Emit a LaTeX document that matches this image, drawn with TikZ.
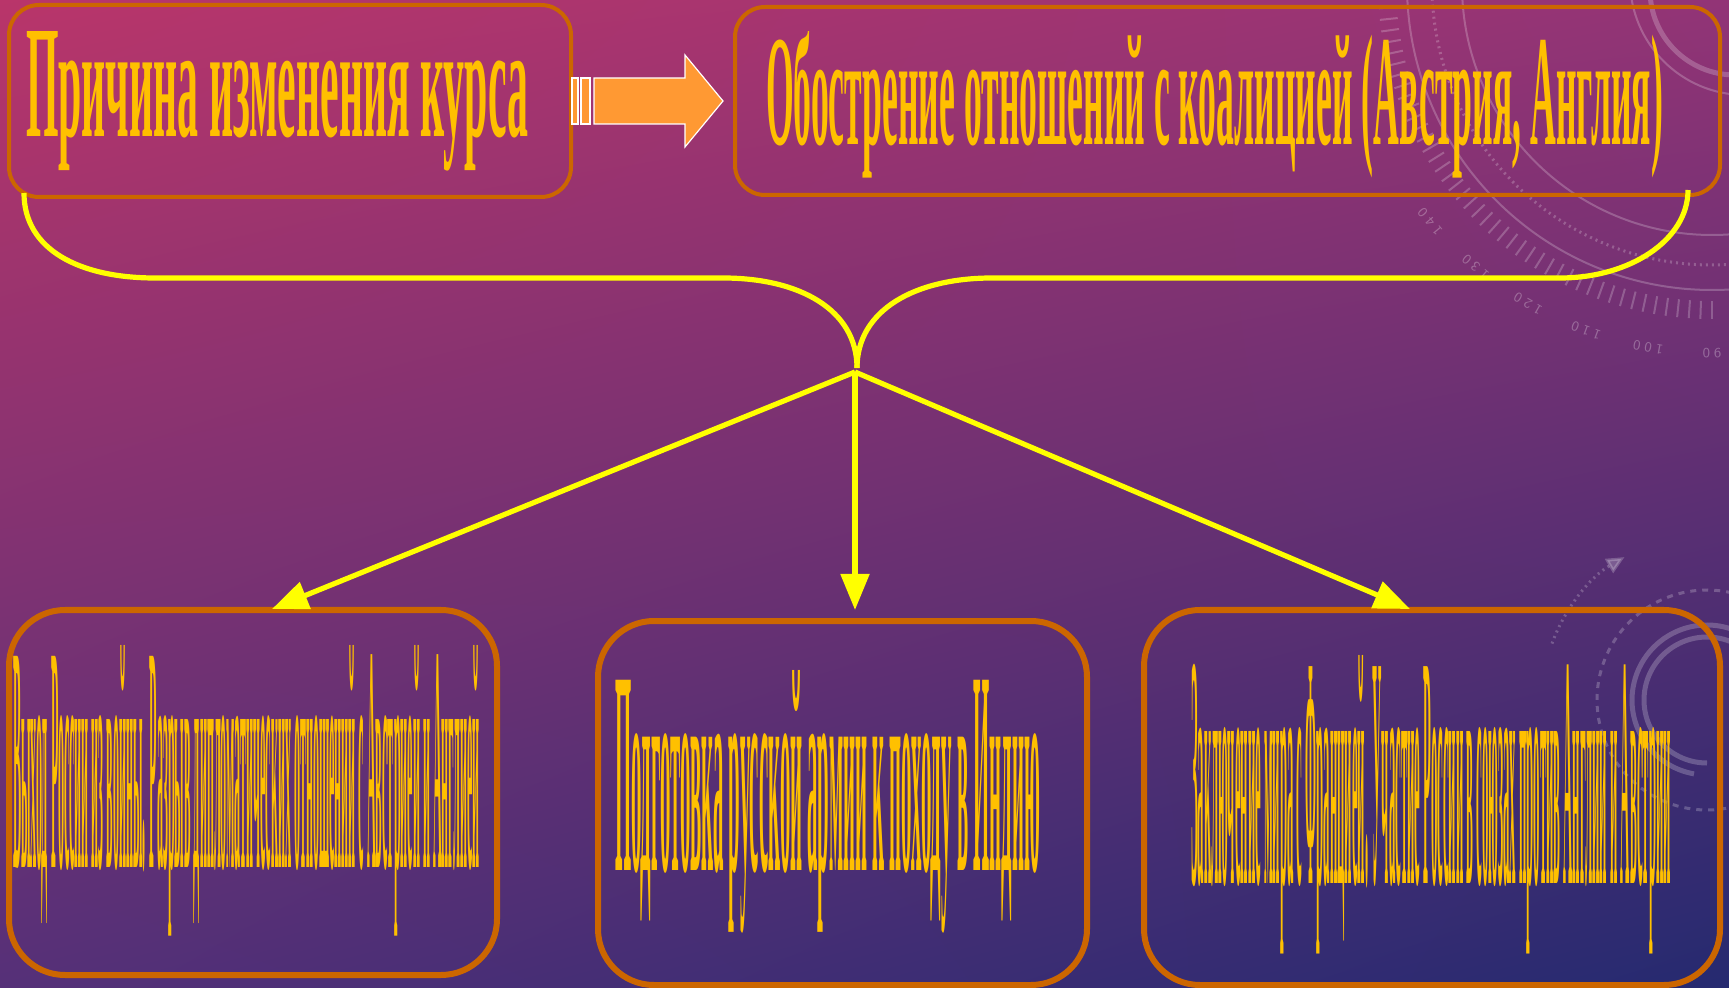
\documentclass[tikz,border=0pt]{standalone}
\usepackage{fontspec}
\setmainfont{Liberation Serif}
\usetikzlibrary{arrows.meta,shadings}
\definecolor{bord}{HTML}{CC6600}
\definecolor{gold}{HTML}{FFC000}
\definecolor{ylw}{HTML}{FFFF00}
\definecolor{orng}{HTML}{FF9933}
\definecolor{bgtl}{HTML}{B9356A}
\definecolor{bgtr}{HTML}{923476}
\definecolor{bgbl}{HTML}{553078}
\definecolor{bgbr}{HTML}{252A70}
\begin{document}
\begin{tikzpicture}[x=0.5pt,y=-0.5pt,
  topbox/.style={draw=bord,line width=2pt,rounded corners=15pt,inner sep=0pt,outer sep=0pt},
  botbox/.style={draw=bord,line width=3pt,rounded corners=28pt,inner sep=0pt,outer sep=0pt},
  lbl/.style={anchor=base west,inner sep=0pt,outer sep=0pt,text=gold,font=\bfseries},
  link/.style={draw=ylw,line width=2.6pt},
  yarrow/.style={link,-{Triangle[length=18pt,width=14pt]}},
  deco/.style={draw=white,opacity=0.22,line width=1pt},
  decotxt/.style={text=white,text opacity=0.28,font=\sffamily\scriptsize,inner sep=0pt}
]
% background
\useasboundingbox (0,0) rectangle (1729,988);
\shade[upper left=bgtl,upper right=bgtr,lower left=bgbl,lower right=bgbr] (0,0) rectangle (1729,988);
% decorations
\begin{scope}
\clip (0,0) rectangle (1729,988);
\coordinate (dc) at (1712,-15);
\draw[deco] (dc) circle[radius=250];
\draw[deco] (dc) circle[radius=305];
\draw[deco,dotted,line width=1.5pt] (dc) circle[radius=280];
\foreach \a in {90,92,...,180} {
  \draw[deco] (dc) ++(\a:316) -- ++(\a:18);
}
\foreach \n/\t in {90/{9\hspace{2pt}0},100/{1\hspace{2pt}0\hspace{2pt}0},110/{1\hspace{2pt}1\hspace{2pt}0},120/{1\hspace{2pt}2\hspace{2pt}0},130/{1\hspace{2pt}3\hspace{2pt}0},140/{1\hspace{2pt}4\hspace{2pt}0}} {
  \node[decotxt,rotate=-\n-90] (num\n) at ([shift={(\n:368)}]dc) {\t};
}
\draw[deco,line width=2.5pt] (1735,-10) circle[radius=85];
\draw[deco] (1745,-20) circle[radius=115];
\coordinate (dc2) at (1707,700);
\draw[deco,line width=2.5pt] (dc2) ++(90:63) arc[start angle=90,end angle=300,radius=63];
\draw[deco,line width=2.5pt] (dc2) ++(100:75) arc[start angle=100,end angle=290,radius=75];
\draw[deco,dashed,line width=1.5pt] (dc2) ++(80:110) arc[start angle=80,end angle=300,radius=110];
\draw[deco,dotted,line width=1.5pt,-{Triangle[length=9pt,width=8pt]}] (dc2) ++(200:165) arc[start angle=200,end angle=240,radius=165];
\end{scope}
% top boxes
\node[topbox,minimum width=281pt,minimum height=96pt] (box1) at (290,101) {};
\node[topbox,minimum width=492.5pt,minimum height=94pt] (box2) at (1227.5,101) {};
\node[lbl] (txt1) at (26,137) {\resizebox{251pt}{52.5pt}{Причина изменения курса}};
\node[lbl] (txt2) at (766,145) {\resizebox{448.5pt}{56.5pt}{Обострение отношений с коалицией (Австрия, Англия)}};
% striped block arrow
\filldraw[fill=orng,draw=white,line width=0.6pt] (594,78) -- (685,78) -- (685,55) -- (723,101) -- (685,147) -- (685,124) -- (594,124) -- cycle;
\filldraw[fill=orng,draw=white,line width=0.6pt] (572,78) rectangle (578,124);
\filldraw[fill=orng,draw=white,line width=0.6pt] (581,78) rectangle (590,124);
% bottom boxes
\node[botbox,minimum width=244pt,minimum height=182.5pt] (bb1) at (253,792.5) {};
\node[botbox,minimum width=244.5pt,minimum height=182pt] (bb2) at (842.5,803) {};
\node[botbox,minimum width=288pt,minimum height=187.5pt] (bb3) at (1432,797.5) {};
\node[lbl] (txt3) at (13,867) {\resizebox{233.5pt}{111pt}{Выход России из войны. Разрыв дипломатических отношений с Австрией и Англией}};
\node[lbl] (txt4) at (615,870) {\resizebox{212.5pt}{100pt}{Подготовка русской армии к походу в Индию}};
\node[lbl] (txt5) at (1191,883) {\resizebox{240pt}{114pt}{Заключение мира с Францией. Участие России в союзах против Англии и Австрии}};
% brace connectors
\coordinate (ls) at (24,193);
\coordinate (rs) at (1688,190);
\coordinate (m) at (857,368);
\draw[link] (ls) .. controls (24,250) and (80,278) .. (155,278) -- (723,278) .. controls (800,278) and (857,310) .. (m);
\draw[link] (rs) .. controls (1688,240) and (1630,278) .. (1560,278) -- (992,278) .. controls (915,278) and (857,310) .. (m);
% arrows
\coordinate (o) at (855,372);
\coordinate (a1) at (272,609);
\coordinate (a2) at (855,610);
\coordinate (a3) at (1410,609);
\draw[yarrow] (o) -- (a1);
\draw[yarrow] (o) -- (a2);
\draw[yarrow] (o) -- (a3);
\end{tikzpicture}
\end{document}
